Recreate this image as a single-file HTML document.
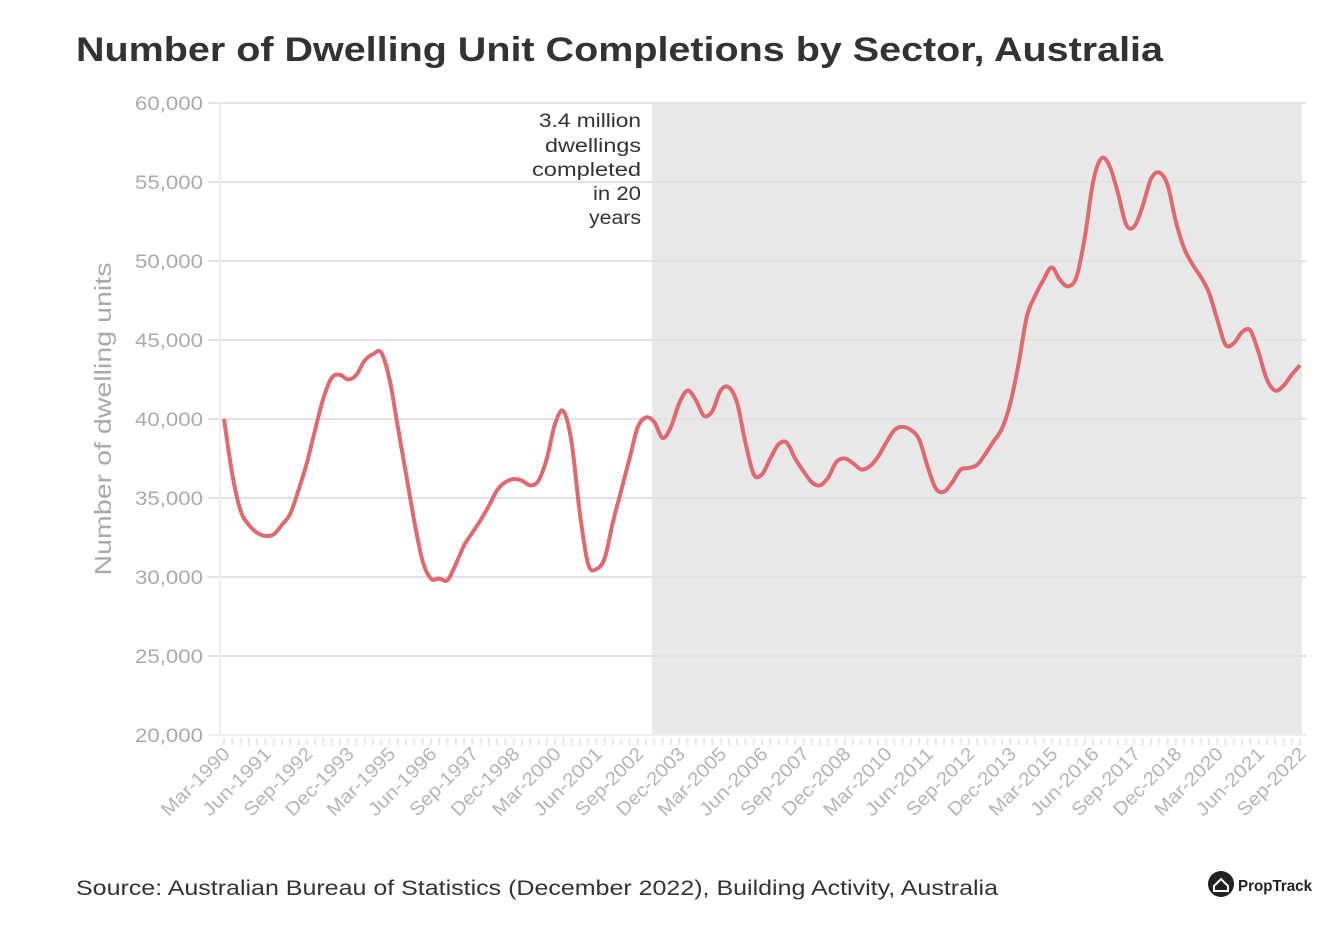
<!DOCTYPE html>
<html><head><meta charset="utf-8"><style>
body{margin:0;background:#fff;font-family:"Liberation Sans",sans-serif;}
#wrap{position:relative;width:1340px;height:940px;overflow:hidden;}
</style></head><body>
<div id="wrap">
<svg id="chart" width="1340" height="940">
<text x="76" y="61" font-size="34" font-weight="bold" fill="#333" textLength="1087" lengthAdjust="spacingAndGlyphs">Number of Dwelling Unit Completions by Sector, Australia</text>
<g id="grid"></g>
<g id="yaxis"></g>
<g id="xaxis"></g>
<text transform="translate(111,419) rotate(-90)" text-anchor="middle" font-size="23" fill="#aaa" textLength="313" lengthAdjust="spacingAndGlyphs">Number of dwelling units</text>
<g font-size="19" fill="#333">
<text x="539" y="127" textLength="102" lengthAdjust="spacingAndGlyphs">3.4 million</text>
<text x="545" y="152" textLength="96" lengthAdjust="spacingAndGlyphs">dwellings</text>
<text x="532" y="176" textLength="109" lengthAdjust="spacingAndGlyphs">completed</text>
<text x="593" y="200" textLength="48" lengthAdjust="spacingAndGlyphs">in 20</text>
<text x="589" y="224" textLength="52" lengthAdjust="spacingAndGlyphs">years</text></g>
<path id="line" fill="none" stroke="#e06870" stroke-width="4" stroke-linejoin="round"/>
<text x="76" y="895" font-size="21" fill="#333" textLength="922" lengthAdjust="spacingAndGlyphs">Source: Australian Bureau of Statistics (December 2022), Building Activity, Australia</text>
<g>
<circle cx="1221" cy="884" r="13" fill="#222"/>
<path d="M1214 886 L1221 879 L1228 886 L1228 891 L1214 891 Z" fill="none" stroke="#fff" stroke-width="2"/>
<text x="1238" y="891" font-size="16" font-weight="bold" fill="#222" textLength="74" lengthAdjust="spacingAndGlyphs">PropTrack</text></g>
</svg>
</div>
<script>
const yTicks=[20000,25000,30000,35000,40000,45000,50000,55000,60000];
const yTickLabels=["20,000","25,000","30,000","35,000","40,000","45,000","50,000","55,000","60,000"];
const xLabels=["Mar-1990","Jun-1991","Sep-1992","Dec-1993","Mar-1995","Jun-1996","Sep-1997","Dec-1998","Mar-2000","Jun-2001","Sep-2002","Dec-2003","Mar-2005","Jun-2006","Sep-2007","Dec-2008","Mar-2010","Jun-2011","Sep-2012","Dec-2013","Mar-2015","Jun-2016","Sep-2017","Dec-2018","Mar-2020","Jun-2021","Sep-2022"];
const completions=[40000,36500,34200,33300,32800,32600,32700,33300,34000,35500,37200,39300,41300,42600,42800,42500,42800,43700,44100,44200,42500,39500,36500,33500,31000,29900,29900,29800,30800,32000,32800,33600,34500,35500,36000,36200,36100,35800,36100,37500,39700,40500,38500,34000,30800,30500,31200,33500,35500,37500,39500,40100,39800,38800,39500,41000,41800,41200,40200,40500,41800,42000,41000,38500,36500,36500,37500,38400,38500,37500,36700,36000,35800,36300,37300,37500,37200,36800,37000,37600,38500,39300,39500,39300,38700,37000,35600,35400,36000,36800,36900,37100,37800,38600,39400,41000,43500,46500,47800,48800,49600,48800,48400,49000,51500,55000,56500,56000,54300,52300,52200,53500,55200,55600,54800,52500,50800,49800,49000,48000,46300,44700,44800,45500,45600,44200,42500,41800,42100,42800,43400];
const shadeStartIndex=51.7;
const NS='http://www.w3.org/2000/svg';
const L=220,R=1302,T=103,B=735,x0=224,x1=1300;
const n=completions.length;
const xs=i=>x0+(x1-x0)*i/(n-1);
const ys=v=>B-(v-20000)/40000*(B-T);
function mk(tag,attrs,parent){const e=document.createElementNS(NS,tag);for(const k in attrs)e.setAttribute(k,attrs[k]);parent.appendChild(e);return e;}
const grid=document.getElementById('grid'),ya=document.getElementById('yaxis'),xa=document.getElementById('xaxis');
const shade=mk('rect',{x:xs(shadeStartIndex),y:T,width:R-xs(shadeStartIndex),height:B-T,fill:'#e8e8e8'},grid);


yTicks.forEach((t,k)=>{
 const g=mk('line',{x1:L-12,x2:R+4,y1:ys(t),y2:ys(t),stroke:k==0?'#eee':'#e2e2e2','stroke-width':2},grid);
 
 
 const tx=mk('text',{x:135,y:ys(t)+7,'font-size':19,fill:'#aaa',textLength:68,lengthAdjust:'spacingAndGlyphs'},ya);
 tx.textContent=yTickLabels[k];
 
 
});
mk('line',{x1:L,x2:L,y1:T,y2:B,stroke:'#eee','stroke-width':2},ya);
for(let i=0;i<n;i++){
 const tk=mk('line',{x1:xs(i),x2:xs(i),y1:B+3,y2:B+10,stroke:'#e6e6e6','stroke-width':2},xa);
 
 
}
xLabels.forEach((lab,k)=>{
 const x=xs(k*5);
 const tx=mk('text',{transform:`translate(${x+7},${B+20}) rotate(-45)`,'text-anchor':'end','font-size':19,fill:'#b5b5b5',textLength:88,lengthAdjust:'spacingAndGlyphs'},xa);
 tx.textContent=lab;
 
 
});
const P=completions.map((v,i)=>[xs(i),ys(v)]);
let d=`M${P[0][0]},${P[0][1]}`;
for(let i=0;i<n-1;i++){
 const p0=P[Math.max(0,i-1)],p1=P[i],p2=P[i+1],p3=P[Math.min(n-1,i+2)];
 const c1=[p1[0]+(p2[0]-p0[0])/6,p1[1]+(p2[1]-p0[1])/6];
 const c2=[p2[0]-(p3[0]-p1[0])/6,p2[1]-(p3[1]-p1[1])/6];
 d+=`C${c1[0]},${c1[1]} ${c2[0]},${c2[1]} ${p2[0]},${p2[1]}`;
}
document.getElementById('line').setAttribute('d',d);
</script>
</body></html>
